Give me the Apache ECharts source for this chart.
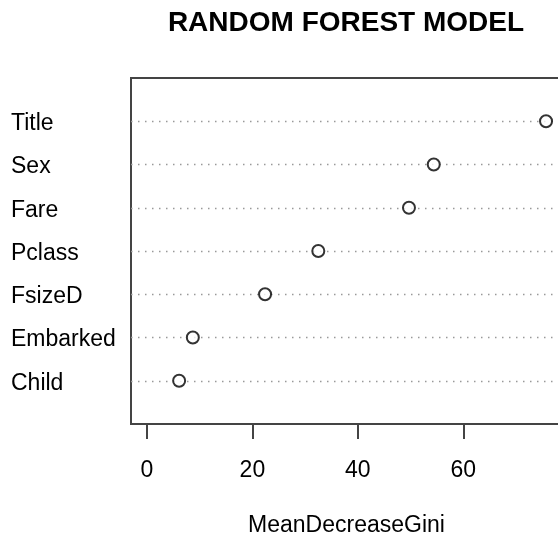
<!DOCTYPE html>
<html>
<head>
<meta charset="utf-8">
<style>
  html, body { margin: 0; padding: 0; background: #ffffff; }
  #chart { width: 558px; height: 538px; }
</style>
<script src="https://cdn.jsdelivr.net/npm/echarts@6/dist/echarts.min.js"></script>
</head>
<body>
<div id="chart"></div>
<script>
// Variables, bottom to top (as R's dotchart draws them)
var categories = ['Child', 'Embarked', 'FsizeD', 'Pclass', 'Fare', 'Sex', 'Title'];
var meanDecreaseGini = [6.1, 8.7, 22.4, 32.5, 49.7, 54.4, 75.7];
var xTickValues = [0, 20, 40, 60];
var chartTitle = 'RANDOM FOREST MODEL';
var xAxisTitle = 'MeanDecreaseGini';

var FONT = "'Liberation Sans', Helvetica, Arial, sans-serif";
var xMaxData = Math.max.apply(null, meanDecreaseGini);
var xMin = -0.04 * xMaxData;
var xMax = 1.04 * xMaxData;

var points = meanDecreaseGini.map(function (v, i) { return [v, i + 1]; });

var chart = echarts.init(document.getElementById('chart'), null, { renderer: 'canvas' });
chart.setOption({
  backgroundColor: '#ffffff',
  animation: false,
  title: {
    text: chartTitle,
    left: 341,
    top: 4,
    textAlign: 'center',
    textStyle: { fontFamily: FONT, fontSize: 28, fontWeight: 'bold', color: '#000000' }
  },
  grid: {
    show: true,
    left: 131,
    top: 78,
    right: -4,
    height: 346,
    outerBoundsMode: 'none',
    borderColor: '#444444',
    borderWidth: 2,
    backgroundColor: 'transparent',
    containLabel: false
  },
  xAxis: {
    type: 'value',
    min: xMin,
    max: xMax,
    name: xAxisTitle,
    nameLocation: 'middle',
    nameGap: 90,
    nameTextStyle: { fontFamily: FONT, fontSize: 23, color: '#000000' },
    axisLine: { show: false },
    axisTick: {
      show: true,
      customValues: xTickValues,
      length: 15,
      lineStyle: { color: '#444444', width: 2 }
    },
    axisLabel: {
      show: true,
      customValues: xTickValues,
      margin: 35,
      fontFamily: FONT,
      fontSize: 23,
      color: '#000000'
    },
    splitLine: { show: false }
  },
  yAxis: {
    type: 'value',
    min: 0,
    max: categories.length + 1,
    interval: 1,
    axisLine: { show: false },
    axisTick: { show: false },
    splitLine: { show: false },
    axisLabel: {
      show: true,
      align: 'left',
      margin: 120,
      fontFamily: FONT,
      fontSize: 23,
      color: '#000000',
      formatter: function (v) {
        var idx = Math.round(v) - 1;
        return (idx >= 0 && idx < categories.length) ? '{c|' + categories[idx] + '}' : '';
      },
      rich: {
        c: { fontFamily: FONT, fontSize: 23, color: '#000000', padding: [5, 0, 0, 0] }
      }
    }
  },
  series: [{
    type: 'scatter',
    data: points,
    symbol: 'circle',
    symbolSize: 12,
    itemStyle: { color: '#ffffff', borderColor: '#000000', borderWidth: 2 },
    z: 5,
    markLine: {
      silent: true,
      symbol: ['none', 'none'],
      label: { show: false },
      lineStyle: { color: '#999999', width: 1.3, type: [1.5, 5.5] },
      data: categories.map(function (c, i) { return { yAxis: i + 1 }; }),
      z: 1
    }
  }]
});
</script>
</body>
</html>
